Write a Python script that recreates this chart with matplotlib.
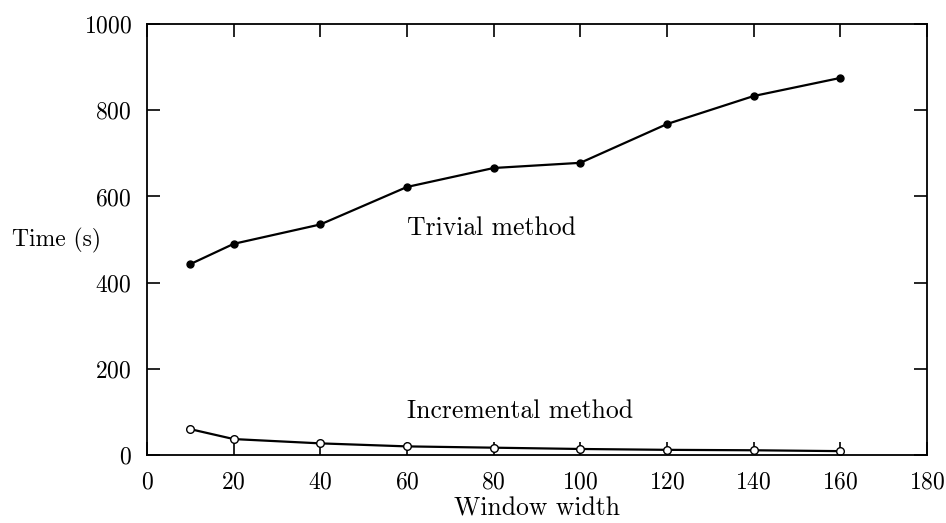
import matplotlib
matplotlib.use("Agg")
import matplotlib.pyplot as plt

# --- data ---
window_width = [10, 20, 40, 60, 80, 100, 120, 140, 160]
trivial_time = [443, 490, 535, 622, 666, 678, 768, 833, 875]
incremental_time = [60, 37, 27, 20, 17, 14, 12, 11, 9]

x_ticks = [0, 20, 40, 60, 80, 100, 120, 140, 160, 180]
y_ticks = [0, 200, 400, 600, 800, 1000]

plt.rcParams['font.family'] = ['cmr10', 'DejaVu Serif']
plt.rcParams['axes.formatter.use_mathtext'] = True

fig = plt.figure(figsize=(9.46, 5.23), dpi=100)
ax = fig.add_axes([0.1554, 0.130, 0.8245, 0.824])

ax.plot(window_width, trivial_time, color='black', lw=1.6,
        marker='o', markersize=5, markerfacecolor='black')
ax.plot(window_width, incremental_time, color='black', lw=1.6,
        marker='o', markersize=5.5, markerfacecolor='white', markeredgewidth=1.0)

ax.text(60, 527, "Trivial method", ha='left', va='center', fontsize=18.5)
ax.text(60, 102, "Incremental method", ha='left', va='center', fontsize=18.5)

ax.set_xlim(0, 180)
ax.set_ylim(0, 1000)
ax.set_xticks(x_ticks)
ax.set_yticks(y_ticks)
ax.tick_params(direction='in', length=9.5, width=1.2, top=True, right=True,
               labelsize=17)
ax.tick_params(axis='y', pad=11)
ax.tick_params(axis='x', pad=12)
for s in ax.spines.values():
    s.set_linewidth(1.3)

ax.set_xlabel("Window width", fontsize=18.5)
ax.xaxis.label.set_va('center')
ax.xaxis.set_label_coords(0.5, -(509 - 455) / 431)
# y label sits flat on the left, as in the reference
fig.text(12 / 946, 1 - 240 / 523, "Time (s)", ha='left', va='center', fontsize=17)

fig.savefig("out.png", dpi=100)
